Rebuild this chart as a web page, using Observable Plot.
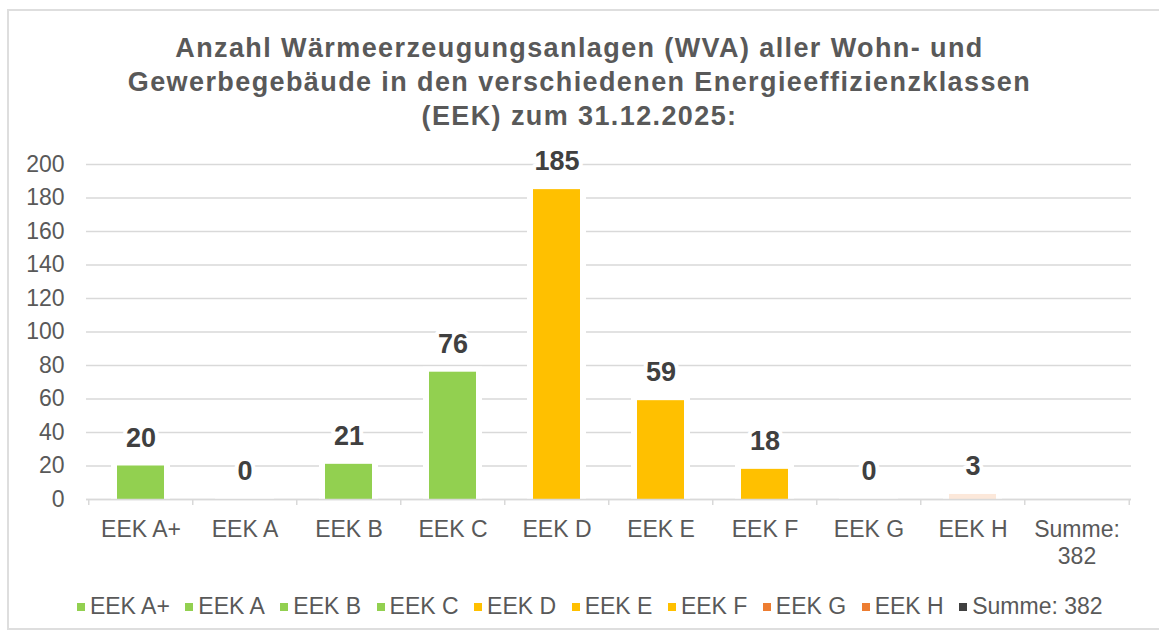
<!DOCTYPE html>
<html>
<head>
<meta charset="utf-8">
<script src="https://cdn.jsdelivr.net/npm/d3@7"></script>
<script src="https://cdn.jsdelivr.net/npm/@observablehq/plot@0.6"></script>
<style>
  body { margin: 0; background: #fff; font-family: "Liberation Sans", Arial, sans-serif; }
  #frame { position: absolute; left: 7px; top: 9px; width: 1170px; height: 621px; border: 2px solid #dedede; box-sizing: border-box; }
  #title { position: absolute; left: 0; top: 31px; width: 1159px; text-align: center; font-weight: bold;
           font-size: 27px; line-height: 34px; color: #595959; letter-spacing: 1.4px; }
  #chart { position: absolute; left: 0; top: 130px; }
  #legend { position: absolute; left: 18px; top: 590px; width: 1159px; display: flex; justify-content: center; }
  .lg-swatch { margin-right: 15.5px !important; }
  .lg-swatch > svg { margin-right: 5px !important; }
</style>
</head>
<body>
<div id="frame"></div>
<div id="title">Anzahl Wärmeerzeugungsanlagen (WVA) aller Wohn- und<br>Gewerbegebäude in den verschiedenen Energieeffizienzklassen<br>(EEK) zum 31.12.2025:</div>
<div id="chart"></div>
<div id="legend"></div>
<script>
// ---- data ----
const categories = ["EEK A+", "EEK A", "EEK B", "EEK C", "EEK D", "EEK E", "EEK F", "EEK G", "EEK H", "Summe: 382"];
const values     = [20, 0, 21, 76, 185, 59, 18, 0, 3, null];
const xLabels    = ["EEK A+", "EEK A", "EEK B", "EEK C", "EEK D", "EEK E", "EEK F", "EEK G", "EEK H", "Summe:\n382"];
const yTicks     = [0, 20, 40, 60, 80, 100, 120, 140, 160, 180, 200];

const data = categories.map((c, i) => ({cat: c, value: values[i]}));
const labelOf = new Map(categories.map((c, i) => [c, xLabels[i]]));

// ---- layout ----
const W = 1159, H = 440, ML = 86, MR = 28, MT = 34, MB = 71;
const step = (W - ML - MR) / categories.length;
const green = "#92D050", yellow = "#FFC000", orange = "#ED7D31", gray = "#404040";
const txt = "#595959", gridC = "#d9d9d9";
const font = "Liberation Sans, Arial, sans-serif";

const chart = Plot.plot({
  width: W, height: H,
  marginLeft: ML, marginRight: MR, marginTop: MT, marginBottom: MB,
  style: {fontFamily: font, fontSize: "23px", background: "transparent", overflow: "visible"},
  x: {domain: categories, paddingInner: 0.55, paddingOuter: 0.275, align: 0.5},
  y: {domain: [0, 200]},
  color: {domain: categories, range: [green, green, green, green, yellow, yellow, yellow, orange, orange, gray]},
  marks: [
    Plot.gridY(yTicks, {stroke: gridC, strokeOpacity: 1, strokeWidth: 1.5}),
    Plot.barY(data.filter(d => d.value != null), {x: "cat", y: "value", fill: "white", insetLeft: -6, insetRight: -6, insetTop: -5}),
    Plot.barY(data.filter(d => d.value != null), {x: "cat", y: "value", fill: "cat", fillOpacity: d => d.cat === "EEK H" ? 0.18 : 1}),
    Plot.ruleY([0], {stroke: gridC, strokeWidth: 1.5}),
    Plot.ruleX(categories, {x: d => d, y1: 0, y2: 0, insetBottom: -6, dx: -step / 2, stroke: gridC, strokeWidth: 1.5}),
    Plot.ruleX([categories[categories.length - 1]], {x: d => d, y1: 0, y2: 0, insetBottom: -6, dx: step / 2, stroke: gridC, strokeWidth: 1.5}),
    Plot.axisY({ticks: yTicks, tickSize: 0, tickPadding: 22, label: null, fontSize: 23, fill: txt}),
    Plot.axisX({tickSize: 0, tickPadding: 19, label: null, fontSize: 23, fill: txt, lineHeight: 1.15, tickFormat: d => labelOf.get(d)}),
    Plot.text(data.filter(d => d.value != null), {
      x: "cat", y: "value", text: d => String(d.value), dy: -28, lineAnchor: "middle",
      fontSize: 27, fontWeight: "bold", fill: gray, stroke: "white", strokeWidth: 8, paintOrder: "stroke"
    })
  ]
});
document.getElementById("chart").appendChild(chart);

const legend = chart.legend("color", {
  legend: "swatches", swatchSize: 8, className: "lg",
  style: {fontSize: "23px", fontFamily: font, color: txt, justifyContent: "center"}
});
document.getElementById("legend").appendChild(legend);
</script>
</body>
</html>
